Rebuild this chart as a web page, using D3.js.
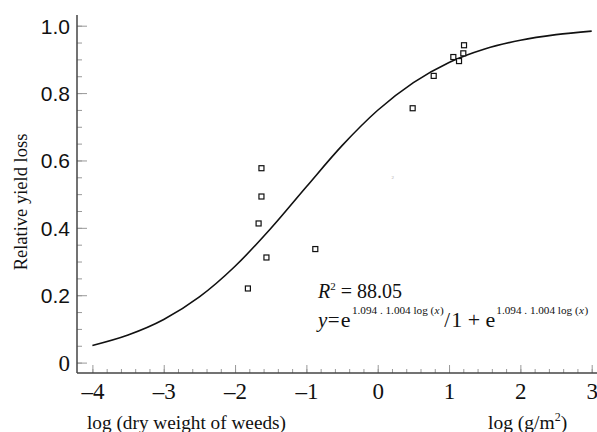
<!DOCTYPE html>
<html><head><meta charset="utf-8">
<script src="https://cdn.jsdelivr.net/npm/d3@7"></script>
<style>body{margin:0;background:#fff}svg{display:block}</style>
</head><body>
<script>
const xTicks = [-4,-3,-2,-1,0,1,2,3];
const yTicks = [0,0.2,0.4,0.6,0.8,1.0];
const curveX = [-4,-3.5,-3,-2.5,-2,-1.5,-1,-0.5,0,0.5,1,1.5,2,2.5,3];
const curveY = [0.051,0.082,0.128,0.195,0.286,0.398,0.522,0.644,0.749,0.831,0.891,0.931,0.957,0.9735,0.984];
const pointX = [-1.63,-1.63,-1.67,-1.56,-0.875,-1.82,0.49,0.785,1.06,1.14,1.20,1.21];
const pointY = [0.577,0.493,0.413,0.312,0.337,0.220,0.755,0.851,0.907,0.895,0.918,0.942];

const W=597,H=432;
const svg=d3.select("body").append("svg").attr("width",W).attr("height",H);
svg.append("rect").attr("width",W).attr("height",H).attr("fill","#fff");
const x=d3.scaleLinear().domain([-4,3]).range([92.4,591.7]);
const y=d3.scaleLinear().domain([0,1]).range([362.6,25.7]);
const axX=77, axY=373;
const serif="'Liberation Serif','Times New Roman',serif";
const sans="'Liberation Sans',Arial,sans-serif";

// y ticks (inward)
const gy=svg.append("g").attr("transform",`translate(${axX},0)`);
gy.call(d3.axisRight(y).tickValues(d3.range(0,1.0001,0.05)).tickSize(5).tickFormat(""));
gy.select(".domain").remove();
const gy2=svg.append("g").attr("transform",`translate(${axX},0)`);
gy2.call(d3.axisRight(y).tickValues(yTicks).tickSize(10).tickFormat(""));
gy2.select(".domain").remove();
gy.selectAll("line").attr("stroke","#999");
gy2.selectAll("line").attr("stroke","#999");
const gyl=svg.append("g").attr("transform",`translate(${axX-2},0)`);
gyl.call(d3.axisLeft(y).tickValues(yTicks).tickSize(0).tickPadding(5).tickFormat(d=>d===0?"0":d3.format(".1f")(d)));
gyl.select(".domain").remove();
gyl.selectAll("text").attr("font-family",d=>d===0?serif:sans).attr("font-size",d=>d===0?23:21).attr("fill","#111").attr("dy","0.35em");

// x ticks (inward)
const gx=svg.append("g").attr("transform",`translate(0,${axY})`);
gx.call(d3.axisTop(x).tickValues(d3.range(-4,3.0001,0.2)).tickSize(4).tickFormat(""));
gx.select(".domain").remove();
const gx2=svg.append("g").attr("transform",`translate(0,${axY})`);
gx2.call(d3.axisTop(x).tickValues(xTicks).tickSize(8).tickFormat(""));
gx2.select(".domain").remove();
gx.selectAll("line").attr("stroke","#999");
gx2.selectAll("line").attr("stroke","#999");
const gxl=svg.append("g").attr("transform",`translate(0,${axY})`);
gxl.call(d3.axisBottom(x).tickValues(xTicks).tickSize(0).tickPadding(10).tickFormat(d=>d<0?"\u2013"+Math.abs(d):String(d)));
gxl.select(".domain").remove();
gxl.selectAll("text").attr("font-family",serif).attr("font-size",23).attr("fill","#111");

// axis lines
svg.append("line").attr("x1",axX).attr("x2",axX).attr("y1",15).attr("y2",axY).attr("stroke","#444").attr("stroke-width",1.5);
svg.append("line").attr("x1",axX).attr("x2",W).attr("y1",axY).attr("y2",axY).attr("stroke","#444").attr("stroke-width",1.5);

// curve
const line=d3.line().x((d,i)=>x(curveX[i])).y((d,i)=>y(curveY[i])).curve(d3.curveMonotoneX);
svg.append("path").datum(curveY).attr("d",line).attr("fill","none").attr("stroke","#111").attr("stroke-width",1.6);

// points
svg.append("g").selectAll("rect").data(pointX).join("rect")
 .attr("x",(d,i)=>x(d)-2.5).attr("y",(d,i)=>y(pointY[i])-2.5).attr("width",5).attr("height",5)
 .attr("fill","#fff").attr("stroke","#111").attr("stroke-width",1.2);

// tiny artifact
svg.append("text").attr("x",392.7).attr("y",179).attr("font-size",5).attr("fill","#aaa").attr("text-anchor","middle").attr("font-family",serif).text("2");

// y label
svg.append("text").attr("transform","translate(27,202) rotate(-90)").attr("text-anchor","middle")
 .attr("font-family",serif).attr("font-size",18.5).attr("fill","#111").text("Relative yield loss");

// x labels
svg.append("text").attr("x",87).attr("y",429).attr("font-family",serif).attr("font-size",19.5).attr("fill","#111")
 .attr("textLength",199).attr("lengthAdjust","spacingAndGlyphs").text("log (dry weight of weeds)");
const t2=svg.append("text").attr("x",488).attr("y",429).attr("font-family",serif).attr("font-size",19.5).attr("fill","#111");
t2.append("tspan").text("log (g/m");
t2.append("tspan").attr("font-size",12).attr("dy",-8).text("2");
t2.append("tspan").attr("dy",8).text(")");

// R2
const r=svg.append("text").attr("x",318).attr("y",298).attr("font-family",serif).attr("font-size",20).attr("fill","#111");
r.append("tspan").attr("font-style","italic").text("R");
r.append("tspan").attr("font-size",11).attr("dy",-8).text("2");
r.append("tspan").attr("dy",8).text(" = 88.05");

// equation: pieces placed sequentially by measured width
const eqG=svg.append("g").attr("font-family",serif).attr("fill","#111");
const base=327, supBase=314;
let cx=318;
const piece=(txt,size,yy,italic,gap)=>{
  const t=eqG.append("text").attr("x",cx).attr("y",yy).attr("font-size",size).text(txt);
  if(italic) t.attr("font-style","italic");
  cx += t.node().getComputedTextLength() + (gap||0);
  return t;
};
const sup=()=>{
  piece("1.094 . 1.004 log (",11.2,supBase,false,0.3);
  piece("x",11.2,supBase,true,0.5);
  piece(")",11.2,supBase,false,0.5);
};
piece("y",21,base,true,0.5);
piece("=",21,base,false,1);
piece("e",22,base,false,1.5);
sup();
piece("/",21,base,false,1);
piece("1 + e",22,base,false,1);
sup();
</script>
</body></html>
